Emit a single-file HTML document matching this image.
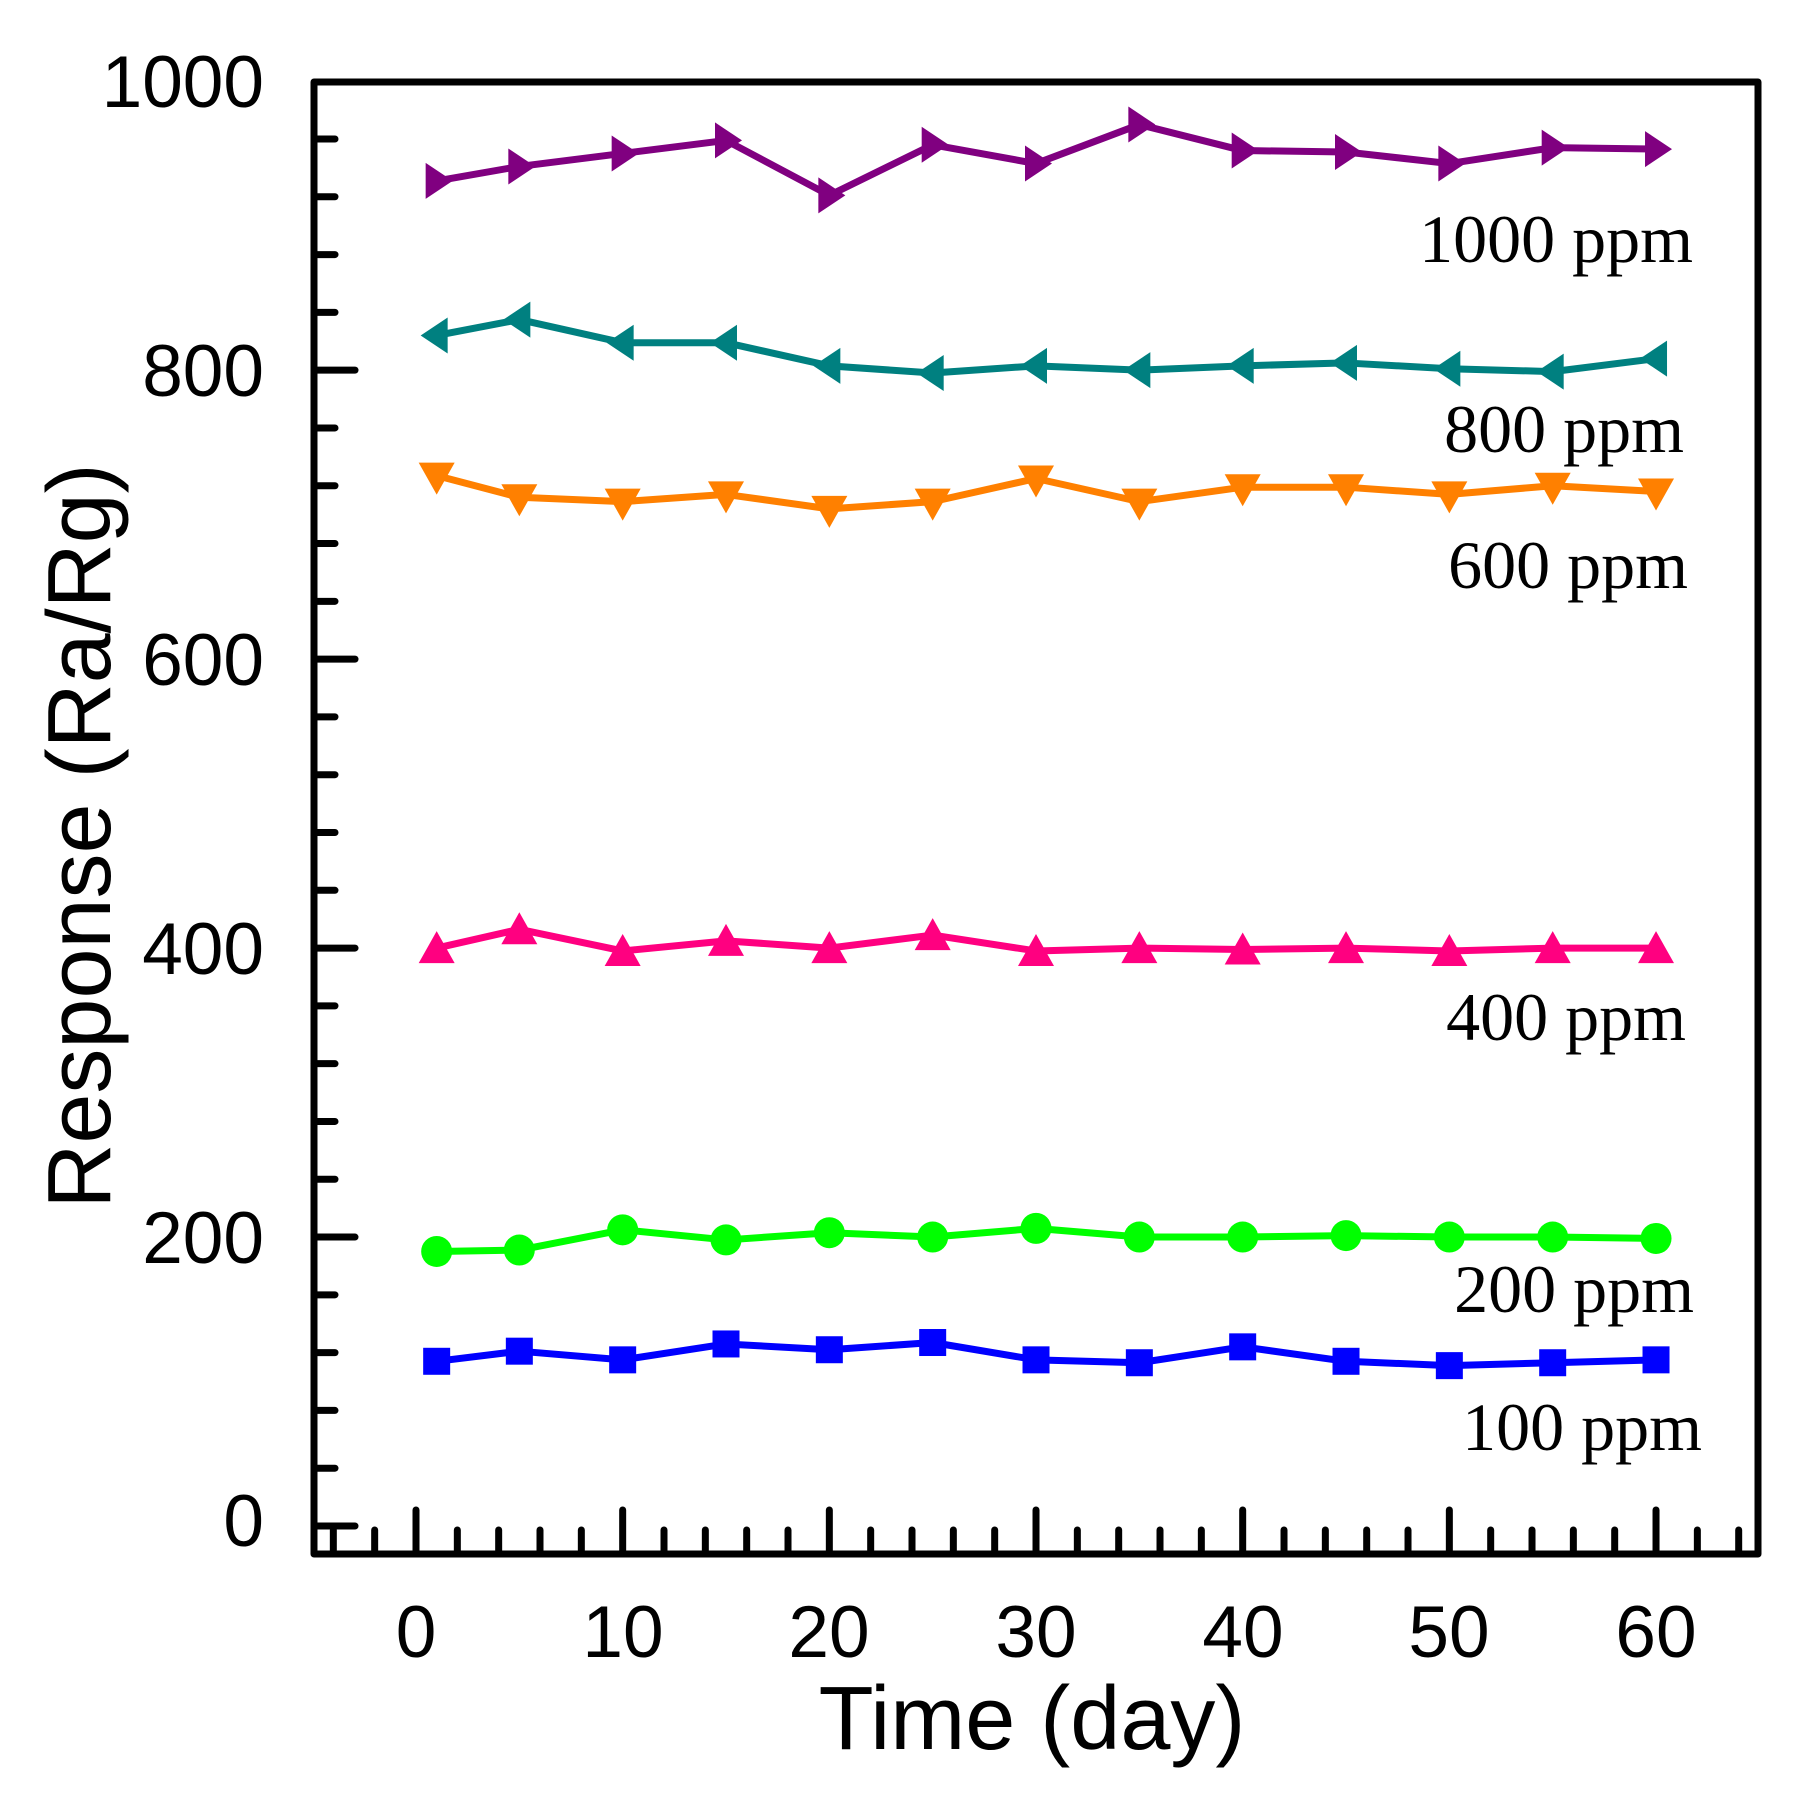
<!DOCTYPE html>
<html><head><meta charset="utf-8"><style>
html,body{margin:0;padding:0;background:#fff;}
svg{display:block;}
.t{font-family:"Liberation Sans",Arial,sans-serif;font-size:73px;fill:#000;}
.a{font-family:"Liberation Sans",Arial,sans-serif;font-size:90px;fill:#000;}
.s{font-family:"Liberation Serif","Times New Roman",serif;font-size:68px;fill:#000;}
</style></head><body>
<svg id="c" width="1801" height="1807" viewBox="0 0 1801 1807" xmlns="http://www.w3.org/2000/svg">
<rect width="1801" height="1807" fill="#fff"/>
<g id="ticks" stroke="#000" stroke-width="7" stroke-linecap="round"></g>
<rect x="314" y="82" width="1444" height="1472" fill="none" stroke="#000" stroke-width="7" stroke-linejoin="round"/>
<g id="series"></g>
<g class="t" text-anchor="end">
<text x="264" y="1546">0</text>
<text x="264" y="1263">200</text>
<text x="264" y="974">400</text>
<text x="264" y="685">600</text>
<text x="264" y="396">800</text>
<text x="264" y="107">1000</text>
</g>
<g class="t" text-anchor="middle">
<text x="416" y="1657">0</text>
<text x="623" y="1657">10</text>
<text x="829" y="1657">20</text>
<text x="1036" y="1657">30</text>
<text x="1243" y="1657">40</text>
<text x="1449" y="1657">50</text>
<text x="1656" y="1657">60</text>
</g>
<text class="a" x="1032" y="1749" text-anchor="middle">Time (day)</text>
<text class="a" transform="translate(110,836) rotate(-90)" text-anchor="middle">Response (Ra/Rg)</text>
<g class="s" text-anchor="end">
<text x="1693" y="262">1000 ppm</text>
<text x="1684" y="452">800 ppm</text>
<text x="1688" y="588">600 ppm</text>
<text x="1686" y="1040">400 ppm</text>
<text x="1694" y="1312">200 ppm</text>
<text x="1702" y="1450">100 ppm</text>
</g>
</svg>
<script>
var NS="http://www.w3.org/2000/svg";
function X(d){return 416+d*20.667;}
function Y(v){return 1526-v*1.4448;}
function el(p,n,a){var e=document.createElementNS(NS,n);for(var k in a)e.setAttribute(k,a[k]);p.appendChild(e);return e;}
var tk=document.getElementById("ticks");
for(var v=0;v<=1000;v+=40){var y=Y(v);var L=(v%200==0)?41:21;if(v==1000)continue;el(tk,"line",{x1:314,y1:y,x2:314+L,y2:y});}
for(var d=-4;d<=64;d+=2){var x=X(d);var L=(d%10==0)?44:24;el(tk,"line",{x1:x,y1:1554,x2:x,y2:1554-L});}
var days=[1,5,10,15,20,25,30,35,40,45,50,55,60];
var S=[
["#800080","R",[931,941,950,959,921,956,943,970,952,951,943,954,953]],
["#008080","L",[824,835,819,819,803,798,803,800,803,805,801,799,808]],
["#FF8000","D",[727,712,709,714,704,709,725,709,719,719,714,720,716]],
["#FF0080","U",[400,413,398,405,400,409,398,400,399,400,398,400,400]],
["#00FF00","C",[190,191,205,198,203,200,206,200,200,201,200,200,199]],
["#0000FF","S",[114,121,115,126,122,127,115,113,124,114,111,113,115]]
];
var g=document.getElementById("series");
S.forEach(function(s){
 var pts=days.map(function(d,i){return X(d)+","+Y(s[2][i]);}).join(" ");
 el(g,"polyline",{points:pts,fill:"none",stroke:s[0],"stroke-width":7,"stroke-linejoin":"round"});
 days.forEach(function(d,i){var x=X(d),y=Y(s[2][i]),c=s[0],p;
  if(s[1]=="R")p=[[x-11,y-18],[x+16,y],[x-11,y+18]];
  else if(s[1]=="L")p=[[x+11,y-18],[x-16,y],[x+11,y+18]];
  else if(s[1]=="D")p=[[x-18,y-13],[x+18,y-13],[x,y+19]];
  else if(s[1]=="U")p=[[x-18,y+15],[x+18,y+15],[x,y-17]];
  if(p)el(g,"polygon",{points:p.map(function(q){return q.join(",");}).join(" "),fill:c});
  else if(s[1]=="C")el(g,"circle",{cx:x,cy:y,r:15.5,fill:c});
  else el(g,"rect",{x:x-13.5,y:y-13.5,width:27,height:27,fill:c});
 });
});
</script>
</body></html>
